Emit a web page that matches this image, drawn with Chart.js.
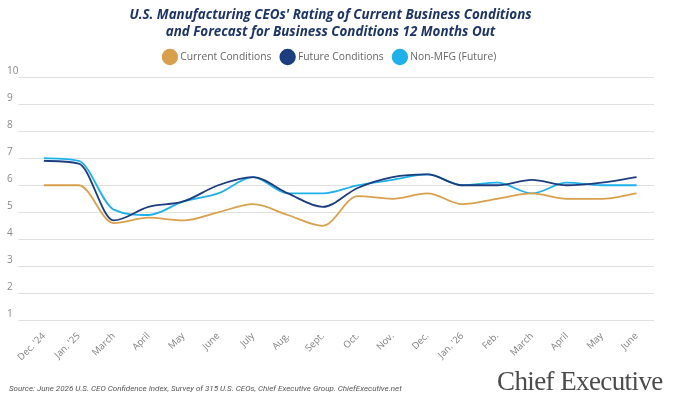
<!DOCTYPE html>
<html>
<head>
<meta charset="utf-8">
<script src="https://cdn.jsdelivr.net/npm/chart.js@4"></script>
<style>
  body { margin: 0; background: #fff; }
  #wrap { position: relative; width: 678px; height: 400px; }
  #source {
    position: absolute; left: 9px; top: 384px;
    font: italic 8px "Liberation Sans Narrow", "Roboto", sans-serif; color: #555;
    white-space: nowrap;
  }
  #logo {
    position: absolute; left: 497px; top: 366px;
    font: 27px "Liberation Serif", serif; color: #4b4b4b; letter-spacing: -0.6px;
    white-space: nowrap;
  }
</style>
</head>
<body>
<div id="wrap">
  <canvas id="myChart" width="678" height="400"></canvas>
  <div id="source">Source: June 2026 U.S. CEO Confidence Index, Survey of 315 U.S. CEOs, Chief Executive Group. ChiefExecutive.net</div>
  <div id="logo">Chief Executive</div>
</div>
<script>
const months = ["Dec. '24", "Jan. '25", "March", "April", "May", "June", "July", "Aug.", "Sept.",
  "Oct.", "Nov.", "Dec.", "Jan. '26", "Feb.", "March", "April", "May", "June"];
const current = [6.0, 6.0, 4.6, 4.8, 4.7, 5.0, 5.3, 4.9, 4.5, 5.6, 5.5, 5.7, 5.3, 5.5, 5.7, 5.5, 5.5, 5.7];
const future = [6.9, 6.8, 4.7, 5.2, 5.4, 6.0, 6.3, 5.7, 5.2, 5.9, 6.3, 6.4, 6.0, 6.0, 6.2, 6.0, 6.1, 6.3];
const nonMfg = [7.0, 6.9, 5.1, 4.9, 5.4, 5.7, 6.3, 5.7, 5.7, 6.0, 6.2, 6.4, 6.0, 6.1, 5.7, 6.1, 6.0, 6.0];
const yTicks = [1, 2, 3, 4, 5, 6, 7, 8, 9, 10];

const font = '"Open Sans", sans-serif';

document.addEventListener('DOMContentLoaded', function () {
  const ctx = document.getElementById('myChart');

  function line(label, data, color) {
    return {
      label: label,
      data: data,
      borderColor: color,
      backgroundColor: color,
      borderWidth: 1.8,
      pointRadius: 0,
      cubicInterpolationMode: 'monotone',
      fill: false
    };
  }

  // extra space under the legend
  const legendGap = {
    id: 'legendGap',
    beforeInit(chart) {
      const fit = chart.legend.fit;
      chart.legend.fit = function () {
        fit.bind(chart.legend)();
        this.height += 5;
      };
    }
  };

  new Chart(ctx, {
    type: 'line',
    data: {
      labels: months,
      datasets: [
        line('Current Conditions', current, '#D9A04C'),
        line('Future Conditions', future, '#1C3D7E'),
        line('Non-MFG (Future)', nonMfg, '#1EB1E9')
      ]
    },
    plugins: [legendGap],
    options: {
      responsive: false,
      animation: false,
      layout: { padding: { left: 7, right: 24, top: 6, bottom: 35 } },
      plugins: {
        title: {
          display: true,
          text: ["U.S. Manufacturing CEOs' Rating of Current Business Conditions",
                 "and Forecast for Business Conditions 12 Months Out"],
          color: '#1C3466',
          font: { family: font, size: 13.4, weight: 'bold', style: 'italic', lineHeight: 1.3 },
          padding: { top: 0, bottom: 0 }
        },
        legend: {
          labels: {
            usePointStyle: true,
            pointStyle: 'circle',
            boxWidth: 12,
            boxHeight: 12,
            color: '#666',
            padding: 11,
            font: { family: font, size: 10.3 }
          }
        },
        tooltip: { enabled: false }
      },
      scales: {
        x: {
          offset: true,
          grid: { display: false },
          border: { display: false },
          ticks: {
            minRotation: 45,
            maxRotation: 45,
            color: '#808080',
            font: { family: font, size: 9.5 },
            padding: 2
          }
        },
        y: {
          min: 1,
          max: 10,
          afterBuildTicks: function (axis) {
            axis.ticks = yTicks.map(v => ({ value: v }));
          },
          border: { display: false },
          grid: { color: '#e0e0e0', lineWidth: 1, tickLength: 8 },
          ticks: {
            color: '#888',
            crossAlign: 'far',
            labelOffset: -6,
            padding: 0,
            font: { family: font, size: 10 }
          }
        }
      }
    }
  });
});
</script>
</body>
</html>
